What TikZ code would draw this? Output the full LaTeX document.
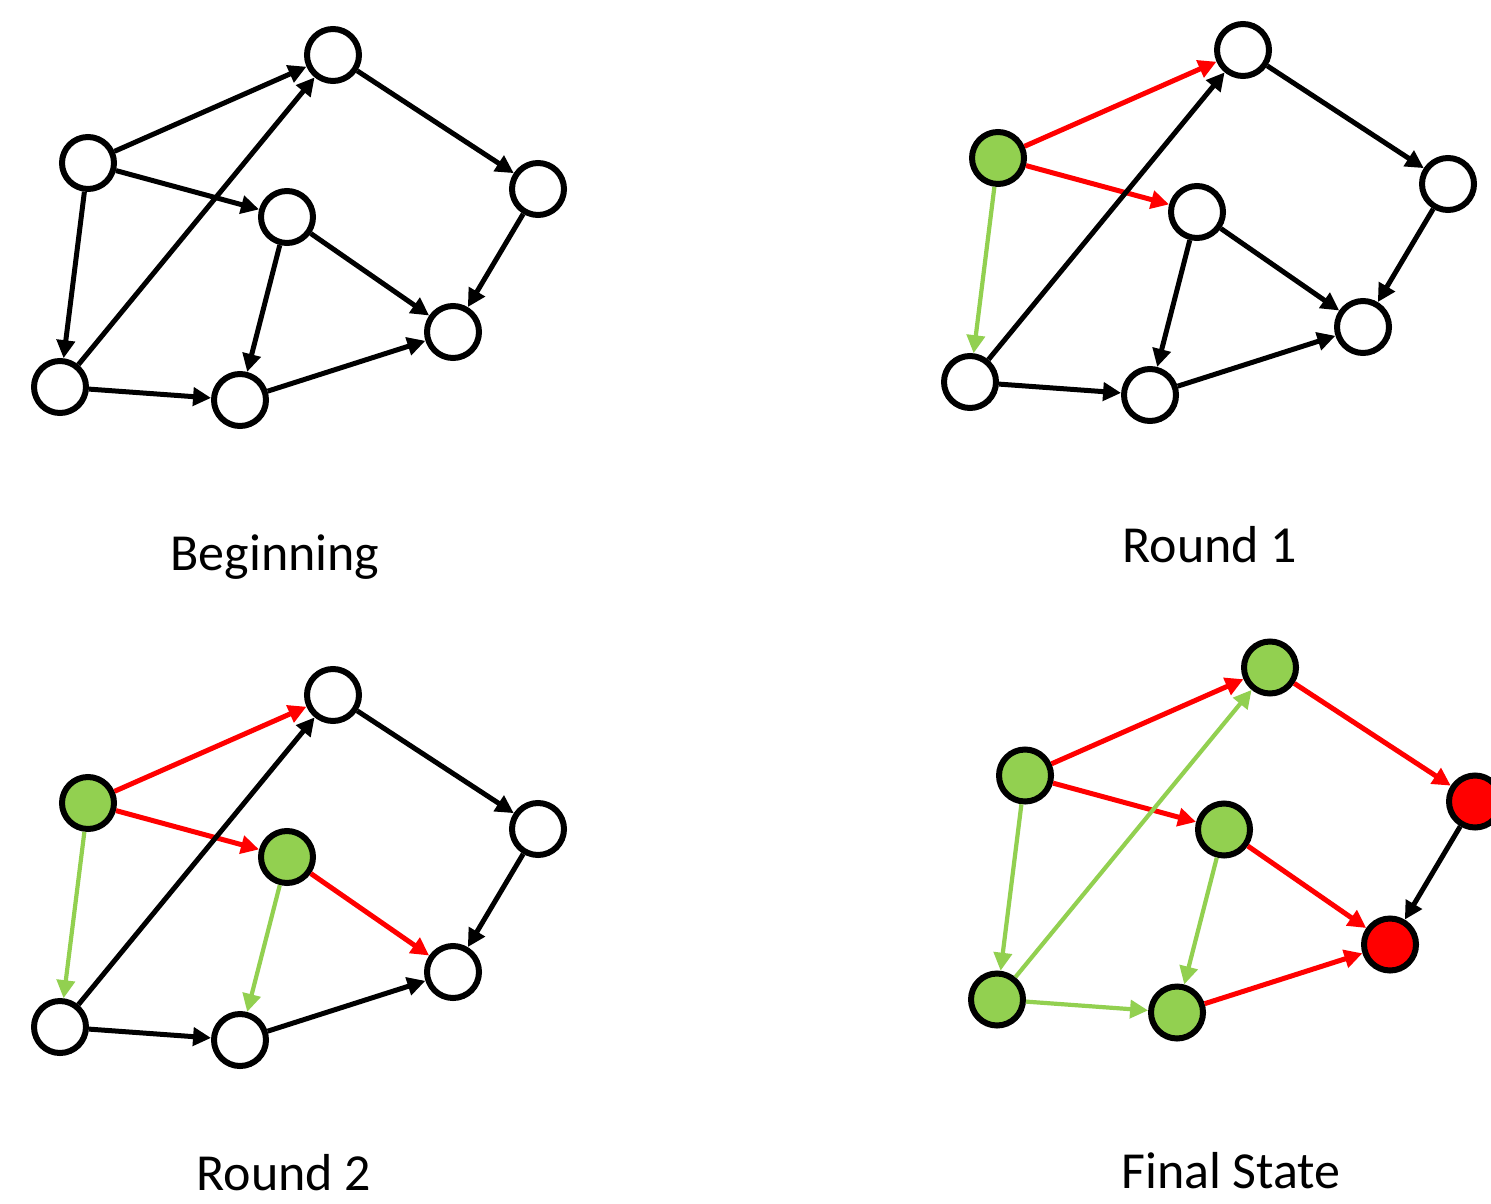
\documentclass[tikz,border=0pt]{standalone}
\usepackage{fontspec}
\setmainfont{Carlito}
\usetikzlibrary{arrows.meta}

\definecolor{vgreen}{HTML}{92D050}
\definecolor{vred}{HTML}{FF0000}

\tikzset{
  vtx/.style={circle, draw=black, line width=3pt, fill=white, minimum size=26pt, inner sep=0pt},
  conn/.style={line width=2.5pt, draw=black, -{Triangle[length=9pt,width=9pt]}},
  caption/.style={anchor=base, font=\fontsize{26}{31}\selectfont},
  % per-vertex and per-edge looks, overridden for each panel
  vA/.style={}, vB/.style={}, vC/.style={}, vD/.style={}, vE/.style={}, vF/.style={}, vG/.style={},
  eAB/.style={}, eAC/.style={}, eAF/.style={}, eFB/.style={}, eFG/.style={},
  eBD/.style={}, eCE/.style={}, eCG/.style={}, eDE/.style={}, eGE/.style={},
  green vertex/.style={fill=vgreen},
  red vertex/.style={fill=vred},
  green conn/.style={draw=vgreen, line width=2.1pt},
  red conn/.style={draw=vred},
}

% one copy of the graph; #1 is a prefix for the node names
\newcommand\graphpanel[1]{%
  \node[vtx,vA] (#1A) at (88,163) {};
  \node[vtx,vB] (#1B) at (333,55) {};
  \node[vtx,vC] (#1C) at (287,217) {};
  \node[vtx,vD] (#1D) at (538,189) {};
  \node[vtx,vE] (#1E) at (453,332) {};
  \node[vtx,vF] (#1F) at (60,387) {};
  \node[vtx,vG] (#1G) at (240,400) {};
  \draw[conn,eAB] (#1A) -- (#1B);
  \draw[conn,eAC] (#1A) -- (#1C);
  \draw[conn,eAF] (#1A) -- (#1F);
  \draw[conn,eFB] (#1F) -- (#1B);
  \draw[conn,eFG] (#1F) -- (#1G);
  \draw[conn,eBD] (#1B) -- (#1D);
  \draw[conn,eCE] (#1C) -- (#1E);
  \draw[conn,eCG] (#1C) -- (#1G);
  \draw[conn,eDE] (#1D) -- (#1E);
  \draw[conn,eGE] (#1G) -- (#1E);
}

\begin{document}
\begin{tikzpicture}[x=0.5pt,y=-0.5pt]
  \fill[white] (0,0) rectangle (1491,1203);
  \useasboundingbox (0,0) rectangle (1491,1203);

  % Beginning
  \begin{scope}
    \graphpanel{b}
  \end{scope}
  \node[caption] (capb) at (275,570) {Beginning};

  % Round 1
  \begin{scope}[shift={(910,-5)},
      vA/.style={green vertex},
      eAB/.style={red conn}, eAC/.style={red conn}, eAF/.style={green conn}]
    \graphpanel{r}
  \end{scope}
  \node[caption] (capr) at (1210,562) {Round 1};

  % Round 2
  \begin{scope}[shift={(0,640)},
      vA/.style={green vertex}, vC/.style={green vertex},
      eAB/.style={red conn}, eAC/.style={red conn}, eAF/.style={green conn},
      eCE/.style={red conn}, eCG/.style={green conn}]
    \graphpanel{s}
  \end{scope}
  \node[caption] (caps) at (284,1190) {Round 2};

  % Final State
  \begin{scope}[shift={(937,612.5)},
      vA/.style={green vertex}, vB/.style={green vertex}, vC/.style={green vertex},
      vF/.style={green vertex}, vG/.style={green vertex},
      vD/.style={red vertex}, vE/.style={red vertex},
      eAB/.style={red conn}, eAC/.style={red conn}, eAF/.style={green conn},
      eFB/.style={green conn}, eFG/.style={green conn}, eBD/.style={red conn},
      eCE/.style={red conn}, eCG/.style={green conn}, eGE/.style={red conn}]
    \graphpanel{f}
  \end{scope}
  \node[caption] (capf) at (1231,1188) {Final State};
\end{tikzpicture}
\end{document}
